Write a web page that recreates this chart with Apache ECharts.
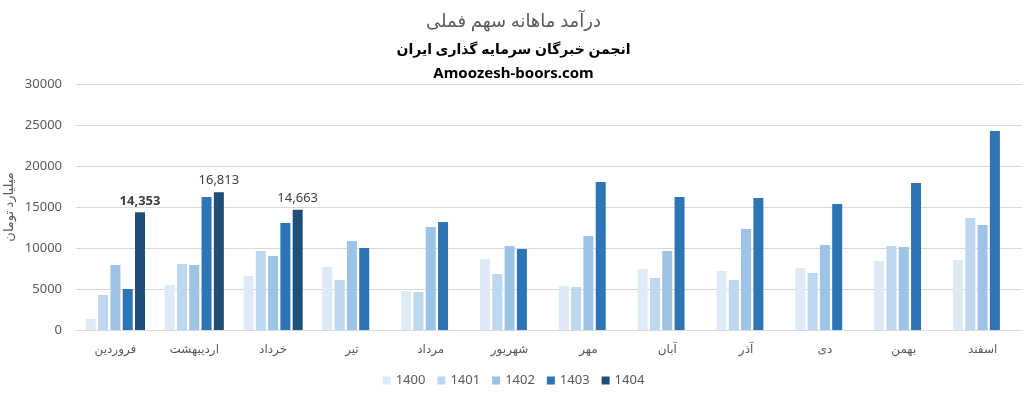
<!DOCTYPE html>
<html>
<head>
<meta charset="utf-8">
<script src="https://cdn.jsdelivr.net/npm/echarts@6/dist/echarts.min.js"></script>
<style>
html,body{margin:0;padding:0;background:#fff;}
#c{width:1027px;height:405px;}
</style>
</head>
<body>
<div id="c"></div>
<script>
const categories = ['فروردین','اردیبهشت','خرداد','تیر','مرداد','شهریور','مهر','آبان','آذر','دی','بهمن','اسفند'];
const seriesNames = ['1400','1401','1402','1403','1404'];
const s1400 = [1350, 5490, 6590, 7680, 4760, 8660, 5370, 7440, 7200, 7560, 8420, 8540];
const s1401 = [4270, 8050, 9630, 6100, 4630, 6830, 5240, 6340, 6100, 6950, 10240, 13660];
const s1402 = [7930, 7930, 9020, 10850, 12560, 10240, 11460, 9630, 12320, 10370, 10120, 12800];
const s1403 = [5000, 16220, 13050, 10000, 13170, 9880, 18050, 16220, 16100, 15370, 17930, 24270];
const s1404 = [14353, 16813, 14663, null, null, null, null, null, null, null, null, null];
const yTicks = [0, 5000, 10000, 15000, 20000, 25000, 30000];
const colors = ['#DEEBF7', '#BDD7EE', '#9DC3E6', '#2E75B6', '#1F4E79'];
const allData = [s1400, s1401, s1402, s1403, s1404];

const FONT = "'Noto Sans', 'DejaVu Sans', sans-serif";

const chart = echarts.init(document.getElementById('c'), null, {renderer: 'canvas'});

const series = seriesNames.map((name, i) => {
  const data = allData[i].map((v, j) => {
    if (i === 4 && v != null) {
      return {
        value: v,
        label: {
          show: true,
          position: 'top',
          distance: 5,
          fontFamily: FONT,
          fontSize: 13,
          color: '#404040',
          fontWeight: j === 0 ? 'bold' : 'normal',
          formatter: p => p.value.toLocaleString('en-US')
        }
      };
    }
    return v;
  });
  return {
    name: name,
    type: 'bar',
    data: data,
    barWidth: 10,
    barGap: '23%',
    itemStyle: {color: colors[i]},
    emphasis: {disabled: true}
  };
});

chart.setOption({
  animation: false,
  color: colors,
  textStyle: {fontFamily: FONT},
  title: [
    {text: 'درآمد ماهانه سهم فملی', left: 'center', top: 8,
     textStyle: {fontFamily: FONT, fontSize: 18, fontWeight: 'normal', color: '#595959'}},
    {text: 'انجمن خبرگان سرمایه گذاری ایران', left: 'center', top: 38,
     textStyle: {fontFamily: FONT, fontSize: 14, fontWeight: 'bold', color: '#000'}},
    {text: 'Amoozesh-boors.com', left: 'center', top: 61,
     textStyle: {fontFamily: FONT, fontSize: 15, fontWeight: 'bold', color: '#000'}}
  ],
  legend: {
    data: seriesNames,
    bottom: 13,
    left: 'center',
    itemWidth: 8,
    itemHeight: 8,
    itemGap: 12,
    icon: 'rect',
    textStyle: {fontFamily: FONT, fontSize: 13, color: '#595959'}
  },
  grid: {left: 76, right: 5, top: 84, bottom: 75, containLabel: false, outerBoundsMode: 'none'},
  xAxis: {
    type: 'category',
    data: categories,
    axisLine: {lineStyle: {color: '#d9d9d9'}},
    axisTick: {show: false},
    axisLabel: {fontFamily: FONT, fontSize: 12, color: '#595959', margin: 14},
    splitLine: {show: false}
  },
  yAxis: {
    type: 'value',
    min: yTicks[0],
    max: yTicks[yTicks.length - 1],
    interval: 5000,
    name: 'میلیارد تومان',
    nameLocation: 'middle',
    nameRotate: 90,
    nameGap: 60,
    nameMoveOverlap: false,
    nameTextStyle: {fontFamily: FONT, fontSize: 13, color: '#595959'},
    axisLine: {show: false},
    axisTick: {show: false},
    axisLabel: {fontFamily: FONT, fontSize: 13, color: '#595959', margin: 14,
                formatter: v => String(v)},
    splitLine: {lineStyle: {color: '#d9d9d9'}}
  },
  series: series
});
</script>
</body>
</html>
